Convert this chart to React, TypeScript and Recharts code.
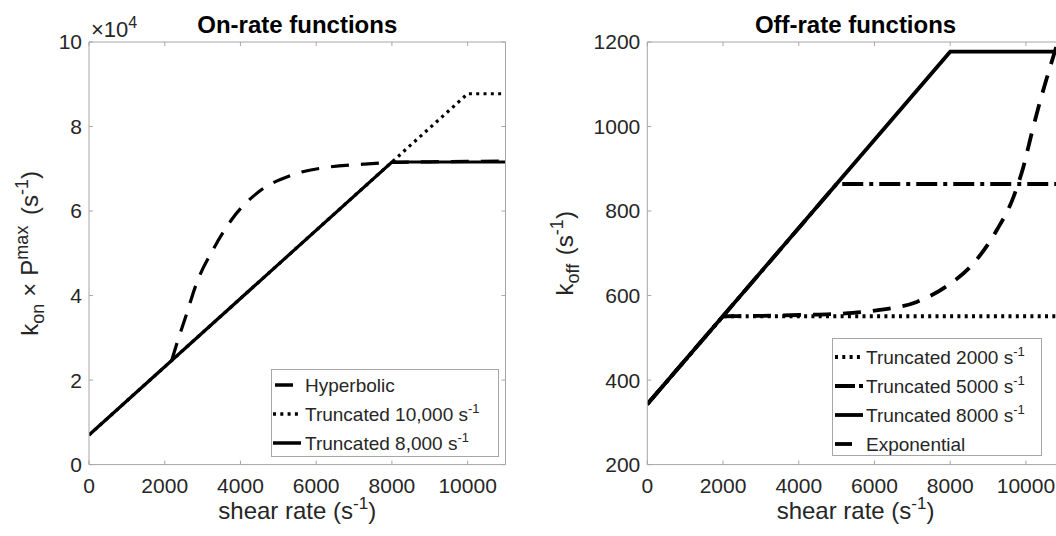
import React from 'react';
import { LineChart, Line, XAxis, YAxis, Legend } from 'recharts';

const FONT = '"Liberation Sans", Arial, Helvetica, sans-serif';
const INK = '#262626';
const FRAME = '#a6a6a6';

// shared shear-rate axis
const shearTicks = [0, 2000, 4000, 6000, 8000, 10000];

// ---- On-rate functions (k_on x P^max, s^-1) ----
const onTicks = [0, 20000, 40000, 60000, 80000, 100000];
const hypX = [2185, 2350, 2536, 2845, 3284, 3770, 4474, 5355, 6323, 7247, 8000, 9000, 10000, 11000];
const hypY = [24700, 29500, 34500, 43000, 51000, 58000, 64500, 68500, 70400, 71100, 71500, 71650, 71750, 71800];
const t10X = [0, 10000, 11000];
const t10Y = [7000, 87750, 87750];
const t8X = [0, 8000, 11000];
const t8Y = [7000, 71600, 71600];

// ---- Off-rate functions (k_off, s^-1) ----
const offTicks = [200, 400, 600, 800, 1000, 1200];
const o2X = [0, 2000, 11000];
const o2Y = [343, 551, 551];
const o5X = [0, 5000, 11000];
const o5Y = [343, 864, 864];
const o8X = [0, 8000, 11000];
const o8Y = [343, 1177, 1177];
const expX = [2000, 3000, 4000, 5086, 6143, 7117, 7953, 8613, 9231, 9670, 9934, 10155, 10375, 10595, 10772, 11000];
const expY = [551, 552, 554, 557, 566, 585, 625, 676, 755, 833, 905, 985, 1060, 1128, 1180, 1250];

const pts = (xs: number[], ys: number[]) => xs.map((x, i) => ({ x, y: ys[i] }));

const DASH = '18 12';
const DOT = '3 4.3';
const DASHDOT = '21 6 4 6';

const tickStyle = { fill: INK, fontSize: 21, fontFamily: FONT };

type Row = { label: string; sup?: boolean; dash?: string; x1: number; x2: number; y: number; w: number };

const LegendBox = ({ w, h, rows }: { w: number; h: number; rows: Row[] }) => (
  <svg width={w} height={h} style={{ display: 'block' }}>
    <rect x={0.5} y={0.5} width={w - 1} height={h - 1} fill="#fff" stroke={FRAME} strokeWidth={1} />
    {rows.map((r, i) => (
      <g key={i}>
        <line x1={r.x1} x2={r.x2} y1={r.y} y2={r.y} stroke="#000" strokeWidth={r.w} strokeDasharray={r.dash} />
        <text x={34} y={r.y + 7} fontSize={19} fontFamily={FONT} fill={INK}>
          {r.label}
          {r.sup ? <tspan dy={-8} fontSize={13}>-1</tspan> : null}
        </text>
      </g>
    ))}
  </svg>
);

const leftRows: Row[] = [
  { label: 'Hyperbolic', dash: undefined, x1: 4, x2: 22, y: 16, w: 3.5 },
  { label: 'Truncated 10,000 s', sup: true, dash: DOT, x1: 2, x2: 30, y: 45, w: 3.5 },
  { label: 'Truncated 8,000 s', sup: true, x1: 2, x2: 30, y: 74, w: 3.5 },
];
const rightRows: Row[] = [
  { label: 'Truncated 2000 s', sup: true, dash: DOT, x1: 3, x2: 31, y: 19, w: 3.8 },
  { label: 'Truncated 5000 s', sup: true, dash: '20 4 4 4', x1: 3, x2: 31, y: 48, w: 3.8 },
  { label: 'Truncated 8000 s', sup: true, x1: 3, x2: 31, y: 77, w: 3.8 },
  { label: 'Exponential', x1: 3, x2: 20, y: 106, w: 3.8 },
];

const ShearLabel = (props: any) => {
  const vb = props.viewBox || {};
  const cx = vb.x + vb.width / 2;
  const y = vb.y + 54;
  return (
    <text x={cx} y={y} textAnchor="middle" fontSize={24} fontFamily={FONT} fill={INK}>
      shear rate (s<tspan dy={-10} fontSize={17}>-1</tspan><tspan dy={10}>)</tspan>
    </text>
  );
};

const TitleLabel = (text: string) => (props: any) => {
  const vb = props.viewBox || {};
  const cx = vb.x + vb.width / 2;
  return (
    <text x={cx} y={vb.y - 8} textAnchor="middle" fontSize={24} fontWeight="bold" fontFamily={FONT} fill="#000">
      {text}
    </text>
  );
};

const OnYLabel = (props: any) => {
  const vb = props.viewBox || {};
  const right = vb.x + vb.width;
  const bx = right - 50.5;
  const cy = vb.y + vb.height / 2;
  return (
    <g>
      <text
        x={bx}
        y={cy}
        transform={`rotate(-90, ${bx}, ${cy})`}
        textAnchor="middle"
        fontSize={24}
        fontFamily={FONT}
        fill={INK}
      >
        k<tspan dy={6} fontSize={18}>on</tspan>
        <tspan dy={-6} dx={7}>×</tspan>
        <tspan dx={7}>P</tspan>
        <tspan dy={-10} fontSize={18}>max</tspan>
        <tspan dy={10} dx={4}> (s</tspan>
        <tspan dy={-10} fontSize={18}>-1</tspan>
        <tspan dy={10}>)</tspan>
      </text>
      <text x={right + 2} y={vb.y - 5} fontSize={22} fontFamily={FONT} fill={INK}>
        ×10<tspan dy={-9} fontSize={16}>4</tspan>
      </text>
    </g>
  );
};

const OffYLabel = (props: any) => {
  const vb = props.viewBox || {};
  const right = vb.x + vb.width;
  const bx = right - 74.3;
  const cy = vb.y + vb.height / 2;
  return (
    <text
      x={bx}
      y={cy}
      transform={`rotate(-90, ${bx}, ${cy})`}
      textAnchor="middle"
      fontSize={24}
      fontFamily={FONT}
      fill={INK}
    >
      k<tspan dy={6} fontSize={18}>off</tspan>
      <tspan dy={-6} dx={2}> (s</tspan>
      <tspan dy={-10} fontSize={18}>-1</tspan>
      <tspan dy={10}>)</tspan>
    </text>
  );
};

const frameAxes = (yDomain: number[], yTicks: number[], title: string) => [
  <XAxis
    key="xt"
    xAxisId="t"
    orientation="top"
    type="number"
    dataKey="x"
    domain={[0, 11000]}
    ticks={shearTicks}
    interval={0}
    allowDataOverflow
    height={1}
    tickSize={-4}
    stroke={FRAME}
    tickFormatter={() => ''}
    label={TitleLabel(title)}
  />,
  <YAxis
    key="yr"
    yAxisId="r"
    orientation="right"
    type="number"
    domain={yDomain}
    ticks={yTicks}
    interval={0}
    allowDataOverflow
    width={1}
    tickSize={-4}
    stroke={FRAME}
    tickFormatter={() => ''}
  />,
];

function OnRateChart() {
  return (
    <LineChart width={540} height={536} margin={{ top: 41, right: 33.5, bottom: 21.4, left: 29 }}>
      <XAxis
        xAxisId="b"
        type="number"
        dataKey="x"
        domain={[0, 11000]}
        ticks={shearTicks}
        interval={0}
        allowDataOverflow
        height={50}
        tickSize={-4}
        tickMargin={17.5}
        stroke={FRAME}
        tick={tickStyle}
        label={ShearLabel}
      />
      <YAxis
        yAxisId="l"
        type="number"
        domain={[0, 100000]}
        ticks={onTicks}
        interval={0}
        allowDataOverflow
        width={60}
        tickSize={-4}
        tickMargin={11}
        stroke={FRAME}
        tick={tickStyle}
        tickFormatter={(v: number) => String(v / 10000)}
        label={OnYLabel}
      />
      {frameAxes([0, 100000], onTicks, 'On-rate functions')}
      <Line xAxisId="b" yAxisId="l" data={pts(hypX, hypY)} dataKey="y" type="monotone" stroke="#000" strokeWidth={3.2} strokeDasharray={DASH} dot={false} activeDot={false} isAnimationActive={false} />
      <Line xAxisId="b" yAxisId="l" data={pts(t10X, t10Y)} dataKey="y" type="linear" stroke="#000" strokeWidth={3.2} strokeDasharray={DOT} dot={false} activeDot={false} isAnimationActive={false} />
      <Line xAxisId="b" yAxisId="l" data={pts(t8X, t8Y)} dataKey="y" type="linear" stroke="#000" strokeWidth={3.2} dot={false} activeDot={false} isAnimationActive={false} />
      <Legend
        layout="horizontal"
        align="center"
        verticalAlign="middle"
        wrapperStyle={{ left: 271, top: 369, width: 228, height: 88 }}
        content={() => <LegendBox w={228} h={88} rows={leftRows} />}
      />
    </LineChart>
  );
}

function OffRateChart() {
  return (
    <LineChart width={600} height={536} margin={{ top: 41, right: 75.2, bottom: 21.4, left: 37.3 }}>
      <XAxis
        xAxisId="b"
        type="number"
        dataKey="x"
        domain={[0, 11000]}
        ticks={shearTicks}
        interval={0}
        allowDataOverflow
        height={50}
        tickSize={-4}
        tickMargin={17.5}
        stroke={FRAME}
        tick={tickStyle}
        label={ShearLabel}
      />
      <YAxis
        yAxisId="l"
        type="number"
        domain={[200, 1200]}
        ticks={offTicks}
        interval={0}
        allowDataOverflow
        width={70}
        tickSize={-4}
        tickMargin={11}
        stroke={FRAME}
        tick={tickStyle}
        label={OffYLabel}
      />
      {frameAxes([200, 1200], offTicks, 'Off-rate functions')}
      <Line xAxisId="b" yAxisId="l" data={pts(o2X, o2Y)} dataKey="y" type="linear" stroke="#000" strokeWidth={3.8} strokeDasharray={DOT} dot={false} activeDot={false} isAnimationActive={false} />
      <Line xAxisId="b" yAxisId="l" data={pts(o5X, o5Y)} dataKey="y" type="linear" stroke="#000" strokeWidth={3.8} strokeDasharray={DASHDOT} dot={false} activeDot={false} isAnimationActive={false} />
      <Line xAxisId="b" yAxisId="l" data={pts(o8X, o8Y)} dataKey="y" type="linear" stroke="#000" strokeWidth={3.8} dot={false} activeDot={false} isAnimationActive={false} />
      <Line xAxisId="b" yAxisId="l" data={pts(expX, expY)} dataKey="y" type="monotone" stroke="#000" strokeWidth={3.8} strokeDasharray={DASH} dot={false} activeDot={false} isAnimationActive={false} />
      <Legend
        layout="horizontal"
        align="center"
        verticalAlign="middle"
        wrapperStyle={{ left: 292, top: 338, width: 210, height: 118 }}
        content={() => <LegendBox w={210} h={118} rows={rightRows} />}
      />
    </LineChart>
  );
}

export default function App() {
  return (
    <div
      style={{
        position: 'fixed',
        left: 0,
        top: 0,
        width: 1056,
        height: 536,
        overflow: 'hidden',
        background: '#fff',
      }}
    >
      <div style={{ position: 'absolute', left: 0, top: 0, width: 540, height: 536 }}>
        <OnRateChart />
      </div>
      <div style={{ position: 'absolute', left: 540, top: 0, width: 600, height: 536 }}>
        <OffRateChart />
      </div>
    </div>
  );
}
